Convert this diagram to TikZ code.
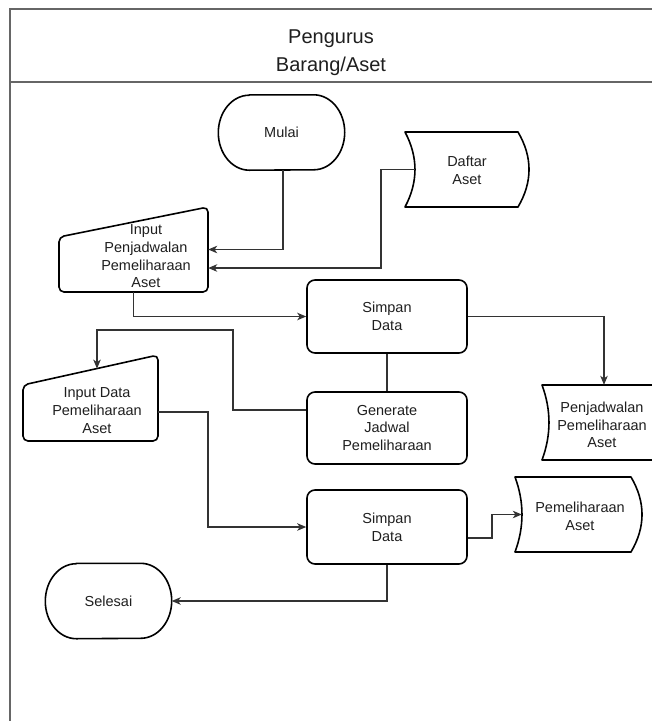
\documentclass[tikz,border=0pt]{standalone}
\usepackage{fontspec}
\setmainfont{Liberation Sans}
\usetikzlibrary{arrows.meta}
\begin{document}
\begin{tikzpicture}[x=1pt,y=-1pt,
  every node/.style={font=\fontsize{14.5}{17.7}\selectfont, text=black!88, align=center, inner sep=0pt},
  shapeline/.style={draw=black, line width=1.6pt, line join=round},
  procbox/.style={shapeline, rounded corners=8pt, minimum width=160pt, minimum height=73pt},
  termbox/.style={minimum width=126pt, minimum height=75pt},
  area/.style={minimum width=#1},
  conn/.style={draw=black!80, line width=1.1pt, -{Stealth[length=9pt,width=7.5pt,inset=2.5pt]}},
  link/.style={draw=black!80, line width=1.1pt},
  lane/.style={draw=black!60, line width=1.6pt}
]
\clip (0,0) rectangle (652,721);
\fill[white] (0,0) rectangle (652,721);

% swimlane
\draw[lane] (10,721) -- (10,9) -- (652,9);
\draw[lane] (10,82) -- (652,82);
\node[font=\fontsize{20}{28}\selectfont] (lanehead) at (331,53) {Pengurus\\Barang/Aset};

% terminators with elliptical ends
\node[termbox] (mulai) at (281.5,132.5) {Mulai};
\node[termbox] (selesai) at (108.5,601) {Selesai};
\foreach \t in {mulai,selesai}{
  \draw[shapeline] ([xshift=31pt]\t.north west) -- ([xshift=-31pt]\t.north east)
    arc[start angle=90,end angle=-90,x radius=31pt,y radius=37.5pt]
    -- ([xshift=31pt]\t.south west)
    arc[start angle=270,end angle=90,x radius=31pt,y radius=37.5pt] -- cycle;
}

% process boxes
\node[procbox] (s1) at (387,316.5) {Simpan\\Data};
\node[procbox, minimum height=72pt] (gen) at (387,428) {Generate\\Jadwal\\Pemeliharaan};
\node[procbox, minimum height=74pt] (s2) at (387,527) {Simpan\\Data};

% manual input: jadwal
\draw[shapeline, rounded corners=5pt] (59,237) -- (208,207) -- (208,292) -- (59,292) -- cycle;
\node[area=149pt, minimum height=85pt] (in1) at (133.5,249.5) {};
\node (in1text) at (146,256.5) {Input\\Penjadwalan\\Pemeliharaan\\Aset};

% manual input: data pemeliharaan
\draw[shapeline, rounded corners=5pt] (23,385) -- (158,355) -- (158,441) -- (23,441) -- cycle;
\node[area=135pt, minimum height=86pt] (in2) at (90.5,398) {};
\node (in2text) at (97,410.5) {Input Data\\Pemeliharaan\\Aset};

% stored data: Daftar Aset
\draw[shapeline] (405,132) -- (518,132) .. controls (532.7,157) and (532.7,182) .. (518,207)
  -- (405,207) .. controls (418.3,182) and (418.3,157) .. (405,132) -- cycle;
\node[area=124pt, minimum height=75pt] (daftar) at (467,169.5) {};
\node (daftartext) at (467,170) {Daftar\\Aset};

% stored data: Penjadwalan Pemeliharaan Aset
\draw[shapeline] (542,385) -- (655,385) .. controls (669.7,410) and (669.7,435) .. (655,460)
  -- (542,460) .. controls (551.3,435) and (551.3,410) .. (542,385) -- cycle;
\node[area=124pt, minimum height=75pt] (pj) at (604,422.5) {};
\node (pjtext) at (602,425) {Penjadwalan\\Pemeliharaan\\Aset};

% stored data: Pemeliharaan Aset
\draw[shapeline] (515,477) -- (631,477) .. controls (645.7,502) and (645.7,527) .. (631,552)
  -- (515,552) .. controls (524.3,527) and (524.3,502) .. (515,477) -- cycle;
\node[area=127pt, minimum height=75pt] (pm) at (578.5,514.5) {};
\node (pmtext) at (580,516) {Pemeliharaan\\Aset};

% bend points
\coordinate (d1) at (381,268);
\coordinate (g1) at (233,410);
\coordinate (g2) at (97,330);
\coordinate (in2top) at (97,368.6);
\coordinate (i2) at (208,412);
\coordinate (k) at (492,538);

% connectors
\draw[conn] ([xshift=1.5pt]mulai.south) |- (in1.east);
\draw[conn] ([xshift=10pt]daftar.west) -| (d1) -- (d1 -| in1.east);
\draw[conn] (in1.south) |- (s1.west);
\draw[link] (s1.south) -- (gen.north);
\draw[conn] (s1.east) -| (pj.north);
\draw[conn] (g1 -| gen.west) -- (g1) |- (g2) -- (in2top);
\draw[conn] (i2 -| in2.east) -- (i2) |- (s2.west);
\draw[conn] (k -| s2.east) -- (k) |- ([xshift=7pt]pm.west);
\draw[conn] (s2.south) |- (selesai.east);
\end{tikzpicture}
\end{document}
